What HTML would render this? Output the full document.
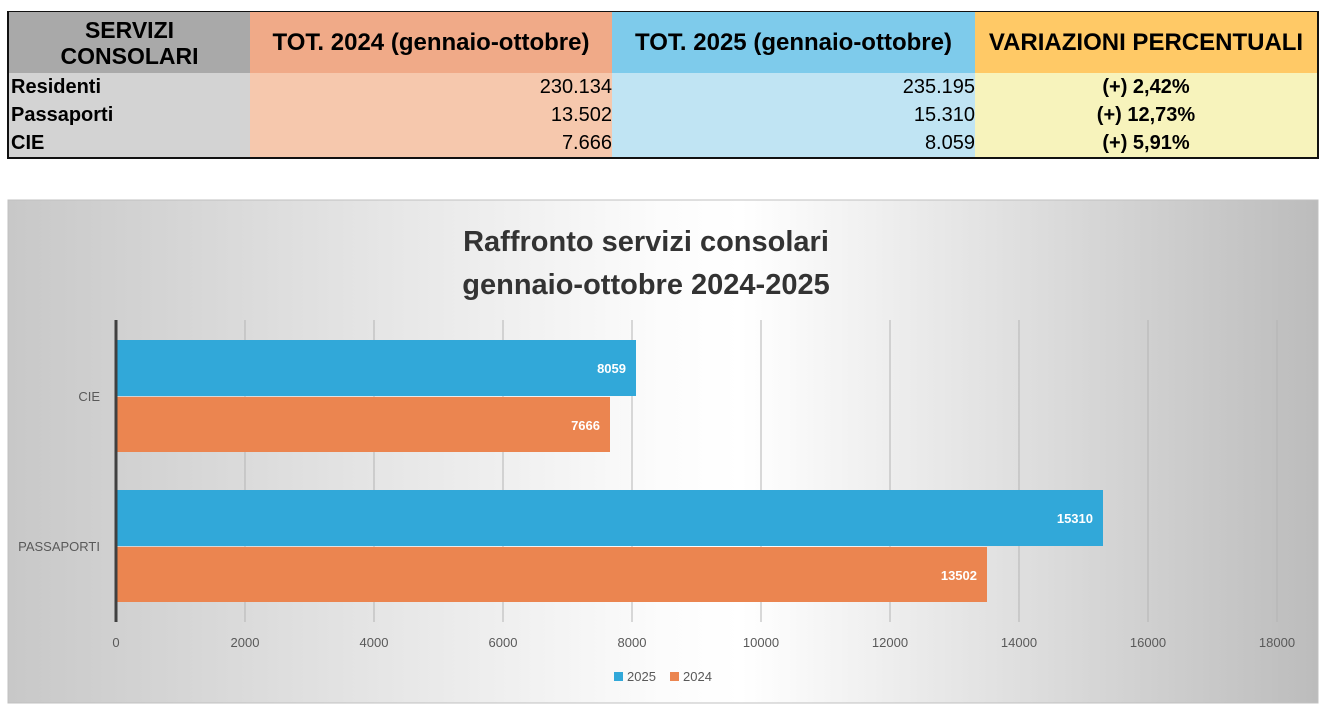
<!DOCTYPE html>
<html><head><style>
body{margin:0;width:1328px;height:708px;background:#fff;position:relative;overflow:hidden;font-family:"Liberation Sans",Arial,sans-serif}
table{position:absolute;left:7px;top:11px;border-collapse:collapse;border:2px solid #111;border-top:1px solid #111}
td{padding:0;font-size:20px;height:28px;line-height:28px;overflow:hidden;white-space:nowrap}
.h td{height:61px;font-weight:bold;font-size:24px;text-align:center;line-height:26px}
</style></head><body>
<table>
<tr class="h"><td style="width:241px;background:#a9a9a9;font-size:23px">SERVIZI<br>CONSOLARI</td><td style="width:362px;background:#f0aa88">TOT. 2024 (gennaio-ottobre)</td><td style="width:363px;background:#7ecbeb">TOT. 2025 (gennaio-ottobre)</td><td style="width:342px;background:#ffc966">VARIAZIONI PERCENTUALI</td></tr>
<tr><td style="background:#d3d3d3;font-weight:bold;padding-left:2px">Residenti</td><td style="background:#f6c8ad;text-align:right">230.134</td><td style="background:#c0e4f3;text-align:right">235.195</td><td style="background:#f7f3bc;text-align:center;font-weight:bold">(+) 2,42%</td></tr>
<tr><td style="background:#d3d3d3;font-weight:bold;padding-left:2px">Passaporti</td><td style="background:#f6c8ad;text-align:right">13.502</td><td style="background:#c0e4f3;text-align:right">15.310</td><td style="background:#f7f3bc;text-align:center;font-weight:bold">(+) 12,73%</td></tr>
<tr><td style="background:#d3d3d3;font-weight:bold;padding-left:2px">CIE</td><td style="background:#f6c8ad;text-align:right">7.666</td><td style="background:#c0e4f3;text-align:right">8.059</td><td style="background:#f7f3bc;text-align:center;font-weight:bold">(+) 5,91%</td></tr>
</table>
<svg width="1328" height="708" style="position:absolute;left:0;top:0" font-family="'Liberation Sans',sans-serif">
<defs>
<linearGradient id="g" x1="0" y1="0" x2="1" y2="0"><stop offset="0" stop-color="#c8c8c8"/><stop offset="0.5" stop-color="#fcfcfc"/><stop offset="0.56" stop-color="#ffffff"/><stop offset="1" stop-color="#bcbcbc"/></linearGradient>
</defs>
<rect x="8" y="200" width="1310" height="503" fill="url(#g)" stroke="#c0c0c0"/>
<text x="646" y="251" text-anchor="middle" font-size="29" font-weight="bold" fill="#333">Raffronto servizi consolari</text>
<text x="646" y="294" text-anchor="middle" font-size="29" font-weight="bold" fill="#333">gennaio-ottobre 2024-2025</text>
<g stroke="#b4b4b4" stroke-width="1">
<line x1="245" y1="320" x2="245" y2="622"/><line x1="374" y1="320" x2="374" y2="622"/><line x1="503" y1="320" x2="503" y2="622"/><line x1="632" y1="320" x2="632" y2="622"/><line x1="761" y1="320" x2="761" y2="622"/><line x1="890" y1="320" x2="890" y2="622"/><line x1="1019" y1="320" x2="1019" y2="622"/><line x1="1148" y1="320" x2="1148" y2="622"/><line x1="1277" y1="320" x2="1277" y2="622"/>
</g>
<rect x="116" y="340" width="520" height="56" fill="#31a8d9"/>
<rect x="116" y="397" width="494" height="55" fill="#eb8550"/>
<rect x="116" y="490" width="987" height="56" fill="#31a8d9"/>
<rect x="116" y="547" width="871" height="55" fill="#eb8550"/>
<line x1="116" y1="320" x2="116" y2="622" stroke="#404040" stroke-width="3"/>
<g fill="#fff" font-size="13" font-weight="bold" text-anchor="end">
<text x="626" y="373">8059</text><text x="600" y="430">7666</text><text x="1093" y="523">15310</text><text x="977" y="580">13502</text>
</g>
<g fill="#595959" font-size="13">
<text x="100" y="401" text-anchor="end">CIE</text><text x="100" y="551" text-anchor="end">PASSAPORTI</text>
<g text-anchor="middle"><text x="116" y="647">0</text><text x="245" y="647">2000</text><text x="374" y="647">4000</text><text x="503" y="647">6000</text><text x="632" y="647">8000</text><text x="761" y="647">10000</text><text x="890" y="647">12000</text><text x="1019" y="647">14000</text><text x="1148" y="647">16000</text><text x="1277" y="647">18000</text></g>
<rect x="614" y="672" width="9" height="9" fill="#31a8d9"/><text x="627" y="681">2025</text>
<rect x="670" y="672" width="9" height="9" fill="#eb8550"/><text x="683" y="681">2024</text>
</g>
</svg>
</body></html>
